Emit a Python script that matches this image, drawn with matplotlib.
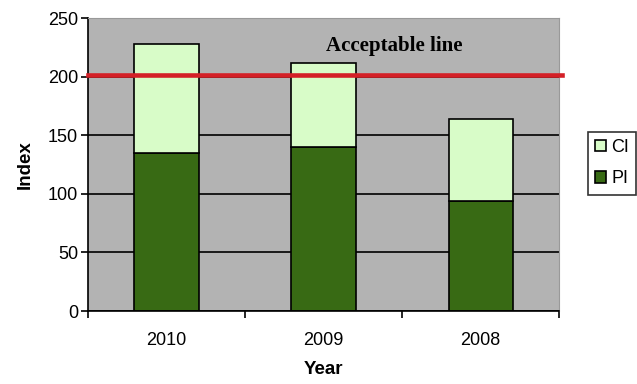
import numpy as np
import matplotlib
matplotlib.use("Agg")
import matplotlib.pyplot as plt

years = ["2010", "2009", "2008"]
pi_values = [135, 140, 94]
ci_values = [93, 72, 70]
acceptable = 201

plt.rcParams['font.family'] = ['Liberation Sans', 'DejaVu Sans']

fig = plt.figure(figsize=(6.37, 3.84), dpi=100)
ax = fig.add_axes([0.138, 0.19, 0.74, 0.763])
ax.set_facecolor('#b3b3b3')

x = np.arange(len(years))
ax.set_axisbelow(True)
ax.yaxis.grid(True, color='black', linewidth=1.2)

b_pi = ax.bar(x, pi_values, width=0.41, color='#386a14', edgecolor='black', linewidth=1.2, label='PI', zorder=2)
b_ci = ax.bar(x, ci_values, width=0.41, bottom=pi_values, color='#d8fcc8', edgecolor='black', linewidth=1.2, label='CI', zorder=2)

# acceptable threshold
ax.plot([-0.5, 2.52], [acceptable, acceptable], color='#d42027', linewidth=3.3, clip_on=False, zorder=3)
ax.text(0.65, 0.905, 'Acceptable line', transform=ax.transAxes, ha='center', va='center',
        fontsize=15, fontweight='bold', family='Liberation Serif')

ax.set_xlim(-0.5, 2.5)
ax.set_ylim(0, 250)
ax.set_yticks([0, 50, 100, 150, 200, 250])
ax.set_xticks(x)
ax.set_xticklabels(years)
ax.set_xticks([-0.5, 0.5, 1.5, 2.5], minor=True)
ax.tick_params(axis='x', which='major', length=0, labelsize=13, pad=15)
ax.tick_params(axis='x', which='minor', length=5, width=1.2, direction='out')
ax.tick_params(axis='y', length=5, width=1.2, labelsize=13, pad=2)

for s in ['top', 'right']:
    ax.spines[s].set_color('#999999')
for s in ['left', 'bottom']:
    ax.spines[s].set_color('black')
    ax.spines[s].set_linewidth(1.2)

ax.set_xlabel('Year', fontsize=13.5, fontweight='bold', labelpad=9)
ax.set_ylabel('Index', fontsize=13.5, fontweight='bold', labelpad=10)

leg = ax.legend(handles=[b_ci, b_pi], labels=['CI', 'PI'], loc='center left',
                bbox_to_anchor=(1.06, 0.505), frameon=True, fancybox=False,
                edgecolor='black', fontsize=13, handlelength=0.6, handleheight=0.6,
                handletextpad=0.3, borderpad=0.4, labelspacing=0.8, borderaxespad=0)
leg.get_frame().set_linewidth(1.2)

plt.savefig('out.png', dpi=100)
